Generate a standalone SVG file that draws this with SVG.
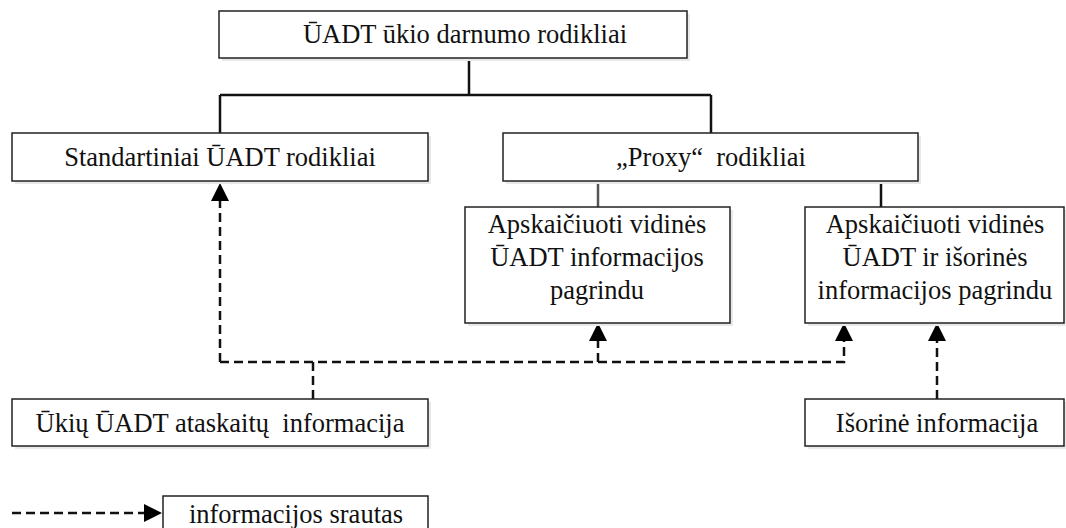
<svg xmlns="http://www.w3.org/2000/svg" width="1066" height="528" viewBox="0 0 1066 528">
<style>
.box{fill:#fff;stroke:#222;stroke-width:1.5}
.shadow{fill:#e9e9e9;stroke:none}
.t{font-family:"Liberation Serif","Times New Roman",serif;font-size:26.5px;fill:#111;text-anchor:middle}
.solid{fill:none;stroke:#111;stroke-width:2.5}
.dash{fill:none;stroke:#111;stroke-width:2.5;stroke-dasharray:9 5}
</style>
<defs>
<marker id="ah" markerUnits="userSpaceOnUse" markerWidth="18" markerHeight="18" refX="0" refY="9" orient="auto">
<path d="M0,0 L18,9 L0,18 z" fill="#000"/>
</marker>
</defs>
<rect width="1066" height="528" fill="#fff"/>
<g id="connectors">
<path class="solid" d="M469,58 L469,95 M220,95 L711,95 M220,95 L220,133 M711,95 L711,133 M881,181 L881,207"/>
<path class="solid" d="M598,181 L598,207" style="stroke:#555"/>
<path class="dash" d="M220,362 L220,201" marker-end="url(#ah)"/>
<path class="dash" d="M220,362 L844,362 L844,341" marker-end="url(#ah)"/>
<path class="dash" d="M598,362 L598,341" marker-end="url(#ah)"/>
<path class="dash" d="M313,399 L313,362"/>
<path class="dash" d="M937,399 L937,341" marker-end="url(#ah)"/>
<path class="dash" d="M12,513 L144,513" marker-end="url(#ah)"/>
</g>
<g id="n-top">
<rect class="shadow" x="222" y="14" width="468" height="47"/>
<rect class="box" x="219" y="11" width="468" height="47"/>
<text class="t" x="465" y="43">ŪADT ūkio darnumo rodikliai</text>
</g>
<g id="n-standard">
<rect class="shadow" x="15" y="136" width="416" height="48"/>
<rect class="box" x="12" y="133" width="416" height="48"/>
<text class="t" x="220" y="166">Standartiniai ŪADT rodikliai</text>
</g>
<g id="n-proxy">
<rect class="shadow" x="506" y="136" width="415" height="48"/>
<rect class="box" x="503" y="133" width="415" height="48"/>
<text class="t" x="711" y="166" xml:space="preserve">„Proxy“  rodikliai</text>
</g>
<g id="n-vidines">
<rect class="shadow" x="468" y="210" width="265" height="116"/>
<rect class="box" x="465" y="207" width="265" height="116"/>
<text class="t" x="597" y="233">Apskaičiuoti vidinės</text>
<text class="t" x="597" y="266">ŪADT informacijos</text>
<text class="t" x="597" y="299">pagrindu</text>
</g>
<g id="n-isorines">
<rect class="shadow" x="808" y="210" width="260" height="116"/>
<rect class="box" x="805" y="207" width="259" height="116"/>
<text class="t" x="935" y="233">Apskaičiuoti vidinės</text>
<text class="t" x="935" y="266">ŪADT ir išorinės</text>
<text class="t" x="935" y="299">informacijos pagrindu</text>
</g>
<g id="n-ukiu">
<rect class="shadow" x="15" y="402" width="416" height="47"/>
<rect class="box" x="12" y="399" width="416" height="47"/>
<text class="t" x="220" y="432" xml:space="preserve">Ūkių ŪADT ataskaitų  informacija</text>
</g>
<g id="n-isorine-info">
<rect class="shadow" x="808" y="402" width="260" height="47"/>
<rect class="box" x="805" y="399" width="259" height="47"/>
<text class="t" x="937" y="432">Išorinė informacija</text>
</g>
<g id="legend">
<rect class="box" x="163" y="496" width="265" height="40"/>
<text class="t" x="296" y="523">informacijos srautas</text>
</g>
</svg>
